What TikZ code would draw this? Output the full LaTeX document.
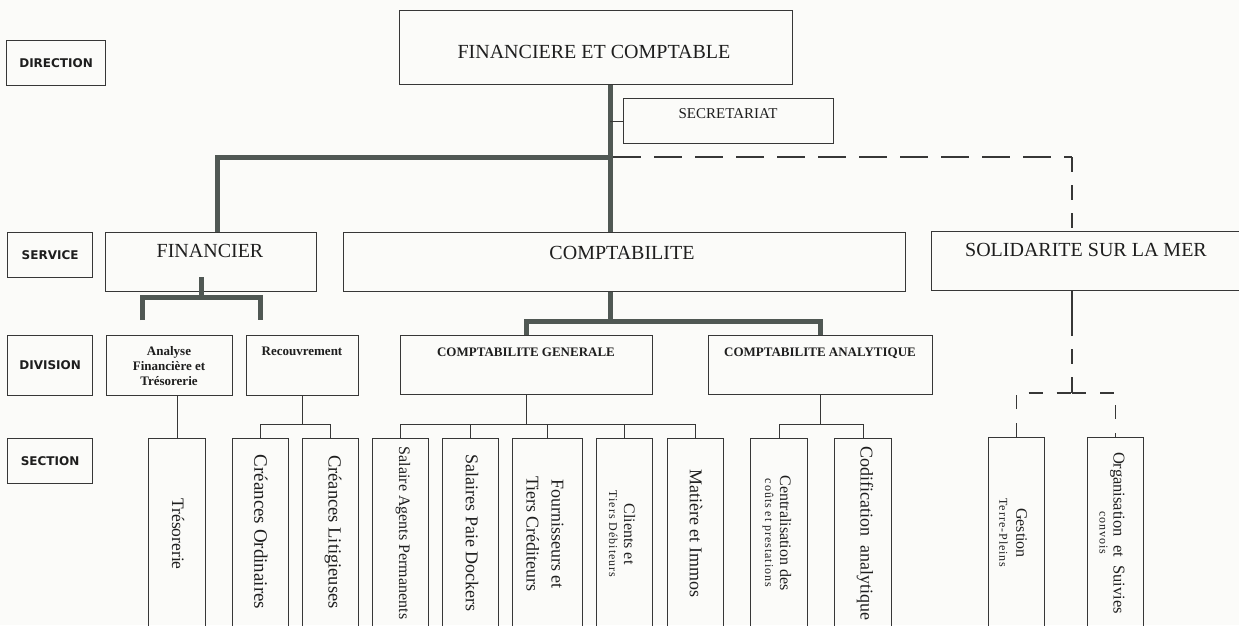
\documentclass[tikz,border=0pt]{standalone}
\usepackage{fontspec}
\setmainfont{Liberation Serif}
\newfontfamily\lblfont{DejaVu Sans}
\newfontfamily\spfont[LetterSpace=8]{Liberation Serif}
\usetikzlibrary{calc}
\definecolor{boxc}{RGB}{55,55,55}
\definecolor{txt}{RGB}{30,30,30}
\definecolor{thkc}{RGB}{80,88,84}
\definecolor{bg}{RGB}{251,251,249}
\begin{document}
\begin{tikzpicture}[x=1pt,y=-1pt,
  box/.style={draw=boxc, line width=1.2pt, inner sep=0pt, anchor=north west},
  lbl/.style={box, font=\lblfont\bfseries\fontsize{12}{14}\selectfont, text=txt},
  t/.style={text=txt, inner sep=0pt, anchor=base},
  sect/.style={text=txt, inner sep=0pt, rotate=-90, align=center},
  thn/.style={draw=boxc, line width=1.2pt},
  thk/.style={draw=thkc, line width=5pt, line join=miter},
  dh/.style={thn, dash pattern=on 28pt off 13pt},
  dv/.style={thn, dash pattern=on 15pt off 13pt},
  sbox/.style={box, minimum height=200}
]
\clip (0,0) rectangle (1239,625);
\fill[bg] (0,0) rectangle (1239,625);

% row labels
\node[lbl, minimum width=99, minimum height=45] (lDir) at (6,40) {DIRECTION};
\node[lbl, minimum width=85, minimum height=45] (lSer) at (7,232) {SERVICE};
\node[lbl, minimum width=85, minimum height=60] (lDiv) at (7,335) {DIVISION};
\node[lbl, minimum width=85, minimum height=45] (lSec) at (7,438) {SECTION};

% direction
\node[box, minimum width=393, minimum height=74] (dir) at (399,10) {};
\node[t, font=\fontsize{20}{24}\selectfont] (dirT) at (594,58) {FINANCIERE ET COMPTABLE};
\node[box, minimum width=210, minimum height=45] (sec) at (623,98) {};
\node[t, font=\fontsize{15}{18}\selectfont] (secT) at (728,118) {SECRETARIAT};

% services
\node[box, minimum width=211, minimum height=59] (fin) at (105,232) {};
\node[t, font=\fontsize{20}{24}\selectfont] (finT) at (210,257) {FINANCIER};
\node[box, minimum width=562, minimum height=59] (comp) at (343,232) {};
\node[t, font=\fontsize{20}{24}\selectfont] (compT) at (622,259) {COMPTABILITE};
\node[box, minimum width=315, minimum height=59] (sol) at (931,231) {};
\node[t, font=\fontsize{20}{24}\selectfont] (solT) at (1086,256) {SOLIDARITE SUR LA MER};

% divisions
\node[box, minimum width=126, minimum height=60] (ana) at (106,335) {};
\node[text=txt, inner sep=0pt, align=center, font=\bfseries\fontsize{13}{15}\selectfont] (anaT) at (169,366) {Analyse\\Financière et\\Trésorerie};
\node[box, minimum width=112, minimum height=60] (rec) at (246,335) {};
\node[t, font=\bfseries\fontsize{13}{15}\selectfont] (recT) at (302,355) {Recouvrement};
\node[box, minimum width=252, minimum height=59] (cg) at (400,335) {};
\node[t, font=\bfseries\fontsize{13}{15}\selectfont] (cgT) at (526,356) {COMPTABILITE GENERALE};
\node[box, minimum width=224, minimum height=59] (ca) at (708,335) {};
\node[t, font=\bfseries\fontsize{13}{15}\selectfont] (caT) at (820,356) {COMPTABILITE ANALYTIQUE};

% sections
\node[sbox, minimum width=57] (tre) at (148,438) {};
\node[sbox, minimum width=56] (co) at (232,438) {};
\node[sbox, minimum width=56] (cl) at (302,438) {};
\node[sbox, minimum width=56] (sa) at (372,438) {};
\node[sbox, minimum width=56] (sp) at (442,438) {};
\node[sbox, minimum width=70] (fo) at (512,438) {};
\node[sbox, minimum width=56] (ct) at (596,438) {};
\node[sbox, minimum width=56] (mi) at (667,438) {};
\node[sbox, minimum width=57] (ce) at (750,438) {};
\node[sbox, minimum width=57] (cd) at (834,438) {};
\node[sbox, minimum width=56] (ge) at (988,437) {};
\node[sbox, minimum width=56] (or) at (1087,437) {};

\node[sect, font=\fontsize{17.5}{20}\selectfont] (treT) at (178,534) {Trésorerie};
\node[sect, font=\fontsize{19}{22}\selectfont] (coT) at (261,532) {Créances Ordinaires};
\node[sect, font=\fontsize{18.5}{22}\selectfont] (clT) at (333,532) {Créances Litigieuses};
\node[sect, font=\fontsize{16}{19}\selectfont] (saT) at (403,533) {Salaire Agents Permanents};
\node[sect, font=\fontsize{18}{21}\selectfont] (spT) at (472,533) {Salaires Paie Dockers};
\node[sect, font=\fontsize{18}{25}\selectfont] (foT) at (545,534) {Fournisseurs et\\Tiers Créditeurs};
\node[sect, font=\fontsize{12}{15}\selectfont] (ctT) at (622,534) {{\fontsize{16}{15}\selectfont Clients et}\\{\spfont Tiers Débiteurs}};
\node[sect, font=\fontsize{18}{21}\selectfont] (miT) at (696,533) {Matière et Immos};
\node[sect, font=\fontsize{12}{15}\selectfont] (ceT) at (777,533) {{\fontsize{16}{15}\selectfont Centralisation des}\\{\spfont coûts et prestations}};
\node[sect, font=\fontsize{18}{21}\selectfont] (cdT) at (865,533) {Codification\ \ analytique};
\node[sect, font=\fontsize{12}{17}\selectfont] (geT) at (1013,533) {{\fontsize{16}{17}\selectfont Gestion}\\{\spfont Terre-Pleins}};
\node[sect, font=\fontsize{12}{14}\selectfont] (orT) at (1112,533) {{\fontsize{16.5}{14}\selectfont Organisation\ \ et\ \ Suivies}\\{\spfont convois}};

% thick connectors
\coordinate (tr) at (610,157);
\draw[thk] (dir.south -| tr) -- (comp.north -| tr);
\draw[thk] (tr) -| ([xshift=6pt]fin.north);
\coordinate (fb) at (201,297);
\coordinate (fl) at (142,320);
\coordinate (fr) at (260,320);
\draw[thk] ($(fin.south -| fb)+(0,-15)$) -- (fb);
\draw[thk] (fl) |- (fb) -| (fr);
\coordinate (cb) at (610,321);
\draw[thk] (comp.south -| cb) -- (cb);
\draw[thk] (cg.north) |- (cb) -| (ca.north);

% thin connectors
\draw[thn] (sec.west) -- (sec.west -| tr);
\draw[thn] (tre.north) -- (tre.north |- ana.south);
\draw[thn] (rec.south) -- ++(0,28) -| (co.north);
\draw[thn] (rec.south) -- ++(0,28) -| (cl.north);
\foreach \n in {sa,sp,fo,ct,mi} \draw[thn] (cg.south) -- ++(0,29) -| (\n.north);
\draw[thn] (ca.south) -- ++(0,29) -| (ce.north);
\draw[thn] (ca.south) -- ++(0,29) -| (cd.north);

% dashed connectors
\coordinate (dc) at (1072,157);
\draw[dh] ([xshift=3pt]tr) -- (dc);
\draw[dv] (dc) -- (sol.north -| dc);
\coordinate (sj) at (1072,393);
\draw[thn, dash pattern=on 45pt off 13pt on 15pt off 13pt on 20pt off 60pt] (sol.south -| sj) -- (sj);
\draw[thn, dash pattern=on 14pt off 14pt] (ge.north) |- (sj);
\draw[thn, dash pattern=on 14pt off 14pt] (sj) -| (or.north);
\end{tikzpicture}
\end{document}
